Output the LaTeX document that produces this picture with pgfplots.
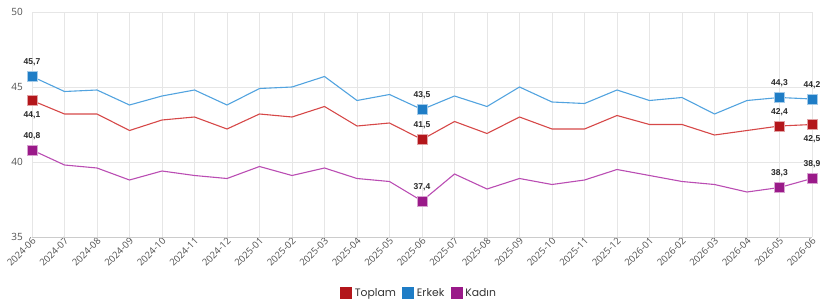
\documentclass[border=0pt]{standalone}
\usepackage{pgfplots}
\pgfplotsset{compat=1.18}
\usepackage{fontspec}
\setmainfont{Open Sans}
\newfontfamily\legfont{Poppins}
\newfontfamily\labfont{Liberation Sans}
\definecolor{toplamL}{HTML}{D64848}
\definecolor{toplamM}{HTML}{B3161B}
\definecolor{erkekL}{HTML}{52A3DF}
\definecolor{erkekM}{HTML}{1F7DC6}
\definecolor{kadinL}{HTML}{BA4DB3}
\definecolor{kadinM}{HTML}{9A1A89}
\definecolor{gridgray}{HTML}{E6E6E6}
\definecolor{tickgray}{HTML}{505050}
\pgfplotstableread{
x toplam erkek kadin
0 44.1 45.7 40.8
1 43.2 44.7 39.8
2 43.2 44.8 39.6
3 42.1 43.8 38.8
4 42.8 44.4 39.4
5 43.0 44.8 39.1
6 42.2 43.8 38.9
7 43.2 44.9 39.7
8 43.0 45.0 39.1
9 43.7 45.7 39.6
10 42.4 44.1 38.9
11 42.6 44.5 38.7
12 41.5 43.5 37.4
13 42.7 44.4 39.2
14 41.9 43.7 38.2
15 43.0 45.0 38.9
16 42.2 44.0 38.5
17 42.2 43.9 38.8
18 43.1 44.8 39.5
19 42.5 44.1 39.1
20 42.5 44.3 38.7
21 41.8 43.2 38.5
22 42.1 44.1 38.0
23 42.4 44.3 38.3
24 42.5 44.2 38.9
}\data
\begin{document}
\begin{tikzpicture}
\begin{axis}[
  at={(0pt,0pt)}, anchor=south west,
  scale only axis, width=780pt, height=225pt,
  xmin=0, xmax=24, ymin=35, ymax=50,
  clip=false,
  ytick={35,40,45,50},
  xtick={0,...,24},
  xticklabels={2024-06,2024-07,2024-08,2024-09,2024-10,2024-11,2024-12,2025-01,2025-02,2025-03,2025-04,2025-05,2025-06,2025-07,2025-08,2025-09,2025-10,2025-11,2025-12,2026-01,2026-02,2026-03,2026-04,2026-05,2026-06},
  /pgf/number format/assume math mode=true,
  /pgf/number format/use comma,
  /pgf/number format/fixed,
  /pgf/number format/precision=1,
  /pgf/number format/fixed zerofill,
  yticklabel={\pgfmathprintnumber[fixed,precision=0]{\tick}},
  x tick label style={rotate=45, anchor=east, font=\fontsize{9.5}{10}\selectfont, text=tickgray, inner sep=1pt, xshift=1pt, yshift=-3pt},
  y tick label style={font=\fontsize{10}{11}\selectfont, text=tickgray, inner sep=0pt, xshift=-9pt},
  grid=major,
  major grid style={color=gridgray, line width=0.6pt},
  axis line style={draw=none},
  major tick length=0pt,
  legend style={at={(axis description cs:0.496,-0.249)}, anchor=center, draw=none, fill=none,
    legend columns=3, font=\legfont\fontsize{10.8}{13}\selectfont, text=black!80,
    /tikz/every even column/.append style={column sep=5pt},
    /tikz/every odd column/.append style={column sep=2pt},
    nodes={inner sep=1.5pt}},
  legend cell align=left,
]
\addlegendimage{only marks, mark=square*, mark size=5.5pt, color=toplamM}
\addlegendentry{Toplam}
\addlegendimage{only marks, mark=square*, mark size=5.5pt, color=erkekM}
\addlegendentry{Erkek}
\addlegendimage{only marks, mark=square*, mark size=5.5pt, color=kadinM}
\addlegendentry{Kadın}
\draw[color=black!20, line width=0.6pt] (axis cs:0,35) -- (axis cs:24,35);
\addplot[forget plot, no marks, color=erkekL, line width=1.1pt] table[x=x, y=erkek] {\data};
\addplot[forget plot, no marks, color=toplamL, line width=1.1pt] table[x=x, y=toplam] {\data};
\addplot[forget plot, no marks, color=kadinL, line width=1.1pt] table[x=x, y=kadin] {\data};
\pgfplotsset{
  lab/.style={forget plot, only marks, mark=square*, mark size=4.8pt,
    mark options={draw=white!60!#1, line width=0.5pt, fill=#1},
    nodes near coords={\pgfmathprintnumber{\pgfplotspointmeta}},
    point meta=y},
  above/.style={every node near coord/.style={anchor=south, inner sep=0pt, yshift=10pt,
    font=\labfont\bfseries\fontsize{8.5}{10}\selectfont, text=black!85}},
  below/.style={every node near coord/.style={anchor=north, inner sep=0pt, yshift=-11pt,
    font=\labfont\bfseries\fontsize{8.5}{10}\selectfont, text=black!85}},
}
\addplot[lab=erkekM, above] coordinates {(0,45.7) (12,43.5) (23,44.3) (24,44.2)};
\addplot[lab=toplamM, above] coordinates {(12,41.5) (23,42.4)};
\addplot[lab=toplamM, below] coordinates {(0,44.1) (24,42.5)};
\addplot[lab=kadinM, above] coordinates {(0,40.8) (12,37.4) (23,38.3) (24,38.9)};
\end{axis}
\pgfresetboundingbox
\path[use as bounding box] (-32pt,-69pt) rectangle (788pt,237pt);
\end{tikzpicture}
\end{document}
